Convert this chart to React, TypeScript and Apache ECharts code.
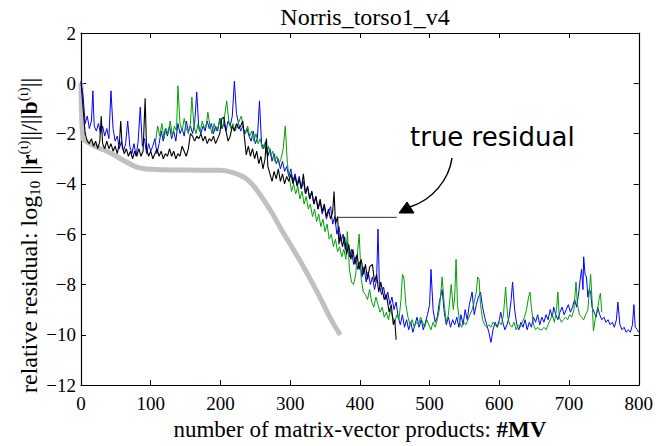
import React, { useEffect, useRef } from "react";
import * as echarts from "echarts";

const titleText = "Norris_torso1_v4";

// gray thick curve (true residual)
const grayData: number[][] = [
  [0, 0], [3, -2.2], [10, -2.35], [20, -2.5], [41, -2.75], [60, -3.05], [80, -3.33], [100, -3.42],
  [150, -3.45], [200, -3.46], [218, -3.55], [235, -3.75], [246, -4.03], [260, -4.55], [275, -5.2],
  [285, -5.7], [300, -6.4], [313, -7.0], [330, -7.85], [342, -8.47], [355, -9.2], [365, -9.7], [372, -10.0],
];

const blueData: number[][] = [
  [0, 0.1], [3, -0.5], [6, -1.6], [9, -1.3], [12, -1.8], [15, -1.5], [17, -0.3], [19, -1.7], [22, -1.9], [25, -1.6],
  [28, -2.0], [31, -1.7], [34, -2.1], [37, -1.8], [40, -2.2], [43, -0.3], [46, -1.8], [49, -2.3], [52, -2.1], [55, -2.6],
  [58, -2.3], [61, -2.7], [64, -2.4], [67, -1.5], [70, -2.5], [73, -2.8], [76, -2.4], [79, -2.9], [82, -2.3], [85, -0.95],
  [88, -2.5], [91, -2.2], [94, -2.8], [97, -2.4], [100, -2.7], [103, -2.5], [106, -2.2], [109, -2.8], [112, -2.4],
  [115, -1.9], [118, -2.3], [121, -1.8], [124, -2.1], [127, -1.7], [130, -2.2], [133, -1.9], [136, -2.3], [139, -1.6],
  [142, -2.0], [145, -1.8], [148, -2.1], [151, -1.5], [154, -1.9], [157, -1.7], [160, -2.0], [163, -1.6], [166, -0.35],
  [169, -1.8], [172, -2.0], [175, -1.7], [178, -1.9], [181, -1.5], [184, -1.8], [187, -1.6], [190, -2.0], [193, -1.7],
  [196, -1.9], [199, -1.4], [202, -1.8], [205, -1.6], [208, -1.9], [211, -1.5], [214, -1.7], [217, -1.3], [220, 0.08],
  [223, -1.2], [226, -1.6], [229, -1.9], [232, -1.7], [235, -2.0], [238, -1.8], [241, -2.1], [244, -2.3], [247, -1.9],
  [250, -2.4], [253, -2.2], [256, -0.7], [259, -2.4], [262, -2.6], [265, -2.3], [268, -2.9], [271, -2.6], [274, -3.1],
  [277, -2.8], [280, -3.2], [283, -3.0], [286, -3.4], [289, -3.1], [292, -3.5], [295, -3.3], [298, -3.7], [301, -3.4],
  [304, -3.9], [307, -3.6], [310, -4.0], [313, -3.7], [316, -4.2], [319, -3.9], [322, -4.4], [325, -4.1], [328, -4.6],
  [331, -4.3], [334, -4.8], [337, -4.5], [340, -5.0], [343, -4.7], [346, -5.2], [349, -4.9], [352, -5.4], [355, -5.1],
  [358, -4.9], [361, -5.6], [364, -5.3], [367, -6.0], [370, -5.7], [373, -6.3], [376, -6.0], [379, -6.6], [382, -6.3],
  [385, -6.9], [388, -6.6], [391, -7.2], [394, -6.9], [397, -7.4], [400, -7.1], [403, -7.7], [406, -7.3], [409, -7.9],
  [412, -7.5], [415, -8.0], [418, -7.7], [421, -8.2], [424, -7.8], [426, -5.8], [428, -8.0], [431, -8.4], [434, -8.1],
  [437, -8.6], [440, -8.3], [443, -8.8], [446, -8.5], [449, -9.0], [452, -8.7], [455, -9.3], [458, -9.6], [461, -9.2],
  [464, -9.7], [467, -9.4], [470, -9.8], [473, -9.5], [476, -9.9], [479, -9.6], [482, -9.3], [485, -9.7], [488, -9.4],
  [491, -9.8], [494, -9.5], [497, -9.2], [500, -8.8], [502, -7.4], [505, -9.0], [508, -9.5], [511, -9.3], [514, -8.7],
  [518, -8.2], [521, -9.1], [524, -9.6], [527, -9.3], [530, -9.7], [533, -9.4], [536, -9.6], [539, -9.3], [542, -9.7],
  [545, -9.2], [548, -9.6], [551, -9.0], [554, -9.4], [557, -8.8], [561, -8.3], [564, -9.2], [567, -8.8], [570, -8.5],
  [573, -8.3], [576, -8.9], [579, -9.3], [582, -9.6], [585, -9.9], [588, -10.3], [591, -9.8], [594, -9.5], [597, -9.7],
  [600, -9.4], [602, -9.1], [605, -9.5], [608, -9.8], [611, -9.6], [614, -9.3], [617, -8.6], [619, -7.9], [622, -9.0],
  [625, -9.6], [628, -9.8], [631, -9.5], [634, -9.7], [637, -9.4], [640, -9.8], [643, -9.5], [646, -9.7], [649, -9.3],
  [652, -9.5], [655, -9.2], [658, -9.6], [661, -9.3], [664, -9.5], [667, -9.2], [670, -9.4], [673, -9.0], [676, -9.3],
  [678, -8.9], [681, -9.2], [684, -9.4], [687, -9.1], [690, -8.9], [693, -9.2], [696, -9.0], [699, -8.8], [702, -9.1],
  [705, -8.9], [708, -8.6], [711, -8.9], [714, -8.3], [716, -7.8], [718, -7.4], [720, -8.2], [721, -6.9], [723, -7.6],
  [725, -7.7], [727, -8.5], [729, -8.2], [731, -8.3], [733, -8.9], [736, -9.1], [739, -9.3], [741, -8.9], [744, -9.2],
  [747, -9.4], [750, -9.3], [753, -9.5], [756, -9.4], [759, -9.6], [762, -9.5], [765, -9.7], [768, -9.4], [770, -8.7],
  [773, -9.6], [776, -9.8], [779, -9.7], [782, -9.9], [785, -9.8], [788, -9.9], [791, -9.6], [793, -8.8], [795, -9.7],
  [798, -9.8], [800, -9.9],
];

const greenData: number[][] = [
  [107, -2.3], [110, -1.7], [113, -2.1], [116, -1.6], [119, -2.2], [122, -1.8], [125, -2.0], [128, -1.5], [131, -2.1],
  [134, -1.7], [137, -1.9], [139, -0.1], [142, -1.6], [145, -1.9], [148, -1.4], [151, -1.8], [154, -2.0], [157, -1.6],
  [159, -0.55], [162, -1.7], [165, -2.0], [168, -1.6], [171, -1.9], [174, -1.5], [177, -1.8], [180, -1.6], [182, -1.15],
  [185, -1.7], [188, -2.0], [191, -1.6], [194, -1.9], [197, -1.7], [200, -1.4], [203, -1.8], [206, -1.3], [209, -0.7],
  [212, -1.5], [215, -1.8], [218, -1.6], [221, -1.9], [224, -1.7], [227, -1.5], [230, -1.3], [233, -1.8], [236, -2.0],
  [239, -1.7], [242, -2.1], [245, -1.9], [248, -2.3], [251, -2.0], [254, -2.4], [257, -2.2], [260, -2.6], [263, -2.4],
  [266, -2.8], [269, -2.5], [272, -2.9], [275, -2.7], [278, -3.1], [281, -2.9], [284, -3.2], [287, -3.0], [290, -2.6],
  [293, -1.7], [296, -3.2], [299, -3.8], [302, -4.3], [305, -4.0], [308, -4.4], [311, -4.1], [314, -4.6], [317, -4.3],
  [320, -4.8], [323, -4.5], [326, -5.0], [329, -4.8], [332, -5.3], [335, -5.0], [338, -5.5], [341, -5.2], [344, -5.7],
  [347, -5.4], [350, -5.9], [353, -5.6], [356, -6.2], [359, -6.0], [362, -6.5], [365, -6.2], [368, -6.7], [371, -6.5],
  [374, -6.9], [377, -6.6], [380, -7.0], [382, -5.9], [385, -7.4], [388, -7.9], [391, -8.0], [394, -7.6], [397, -6.6],
  [399, -6.0], [402, -7.8], [405, -8.3], [408, -8.4], [411, -8.6], [414, -8.2], [417, -8.7], [420, -8.9], [423, -8.5],
  [426, -8.8], [429, -9.1], [432, -8.9], [435, -9.3], [438, -9.1], [441, -9.4], [444, -9.0], [447, -9.3], [450, -9.5],
  [453, -9.2], [456, -9.4], [459, -8.6], [461, -7.6], [463, -7.7], [466, -8.8], [469, -9.3], [472, -9.6], [475, -9.4],
  [478, -9.7], [481, -9.5], [484, -9.6], [487, -9.3], [490, -9.5], [493, -9.7], [496, -9.4], [499, -9.6], [502, -9.8],
  [505, -9.5], [508, -9.7], [511, -9.4], [514, -9.0], [518, -7.7], [521, -8.8], [524, -9.5], [527, -9.2], [531, -8.0],
  [534, -9.0], [536, -8.5], [538, -7.0], [540, -8.8], [543, -9.5], [546, -9.7], [549, -9.5], [552, -9.6], [555, -9.4],
  [558, -9.2], [561, -9.0], [564, -8.7], [567, -8.3], [569, -7.7], [571, -7.8], [573, -8.8], [576, -9.4], [579, -9.6],
  [582, -9.7], [585, -9.6], [588, -9.7], [591, -9.5], [594, -9.6], [597, -9.7], [600, -9.5], [603, -9.6], [606, -9.2],
  [609, -8.1], [612, -9.3], [615, -9.6], [618, -9.7], [621, -9.5], [624, -9.8], [627, -9.6], [630, -9.7], [633, -9.5],
  [636, -9.3], [639, -9.0], [642, -8.5], [644, -8.3], [646, -8.9], [649, -9.6], [652, -9.8], [655, -9.7], [658, -9.8],
  [661, -9.8], [664, -9.7], [667, -9.8], [670, -9.6], [673, -9.4], [676, -9.2], [679, -9.5], [682, -9.0], [684, -8.3],
  [686, -9.3], [689, -9.5], [692, -9.4], [695, -9.3], [698, -9.4], [701, -9.2], [704, -9.3], [707, -9.0], [710, -7.9],
  [712, -8.8], [715, -9.2], [718, -9.3], [721, -9.4], [724, -9.2], [727, -9.0], [729, -8.3], [731, -7.6], [733, -8.6],
  [735, -9.85], [738, -9.3], [741, -9.0], [743, -8.6], [745, -8.35], [747, -9.1],
];

const blackData: number[][] = [
  [0, 0.05], [3, -1.0], [6, -2.0], [9, -2.3], [12, -2.4], [15, -2.2], [18, -2.5], [21, -2.3], [24, -2.6], [27, -2.3],
  [29, -1.3], [31, -2.4], [34, -2.6], [37, -2.3], [40, -2.6], [43, -2.4], [46, -2.7], [49, -2.5], [52, -2.8], [55, -2.4],
  [57, -1.5], [59, -2.5], [62, -2.8], [65, -2.6], [68, -2.9], [71, -2.7], [74, -3.0], [77, -2.7], [80, -2.9], [83, -2.6],
  [86, -2.9], [89, -2.7], [92, -0.6], [94, -2.6], [97, -2.9], [100, -2.7], [103, -3.0], [106, -2.8], [109, -2.6],
  [112, -2.9], [115, -2.7], [118, -3.0], [121, -2.8], [124, -2.9], [127, -2.6], [130, -2.9], [133, -2.7], [136, -3.0],
  [139, -2.8], [142, -2.9], [145, -2.5], [148, -2.7], [151, -2.9], [154, -2.6], [157, -2.0], [160, -2.1], [163, -2.3],
  [166, -2.1], [169, -2.2], [172, -2.0], [175, -2.3], [178, -2.1], [181, -2.4], [184, -2.2], [187, -2.3], [190, -2.1],
  [193, -2.4], [196, -2.2], [199, -2.0], [202, -1.4], [205, -1.35], [208, -1.9], [211, -2.3], [214, -2.1], [217, -1.7],
  [220, -1.9], [223, -1.6], [226, -1.8], [229, -1.7], [232, -1.5], [235, -2.3], [237, -2.85], [240, -2.5], [243, -2.9],
  [246, -2.6], [249, -3.0], [252, -2.7], [255, -3.2], [258, -2.9], [261, -3.4], [264, -3.0], [266, -2.2], [268, -3.3],
  [271, -3.6], [274, -3.9], [277, -3.5], [280, -3.8], [283, -3.4], [286, -3.9], [289, -3.6], [292, -4.0], [295, -3.7],
  [298, -3.9], [301, -3.6], [304, -4.0], [307, -3.7], [310, -4.1], [313, -3.8], [316, -4.2], [319, -3.6], [322, -4.4],
  [325, -4.1], [328, -4.6], [331, -4.3], [334, -4.8], [337, -4.5], [340, -5.0], [343, -4.6], [346, -5.1], [349, -4.8],
  [352, -5.3], [355, -5.0], [358, -5.4], [361, -5.1], [363, -4.3], [365, -5.6], [368, -5.3], [370, -6.4], [372, -6.0],
  [375, -6.5], [378, -6.1], [381, -6.8], [384, -6.4], [387, -7.0], [390, -6.6], [393, -7.2], [396, -6.8], [399, -7.4],
  [402, -7.0], [405, -7.6], [408, -7.2], [411, -7.8], [414, -7.3], [418, -7.2], [421, -7.9], [424, -7.6], [427, -8.3],
  [430, -7.9], [432, -8.2], [435, -8.6], [438, -8.4], [442, -9.1], [445, -8.8], [448, -9.6], [450, -9.4], [452, -10.2],
];

const markerLine: number[][] = [[368, -5.33], [453, -5.33]];

const SERIF = "'Liberation Serif', 'DejaVu Serif', serif";
const fmt = (v: number) => String(v).replace("-", "\u2212");

export default function App() {
  const ref = useRef<HTMLDivElement>(null);
  useEffect(() => {
    if (!ref.current) return;
    const chart = echarts.init(ref.current, undefined, { renderer: "svg" });
    const axisCommon = {
      type: "value" as const,
      splitLine: { show: false },
      axisLine: { show: true, onZero: false, lineStyle: { color: "#000", width: 1.2 } },
      axisTick: { show: true, inside: true, length: 5, lineStyle: { color: "#000", width: 1 } },
    };
    chart.setOption({
      animation: false,
      backgroundColor: "#fff",
      title: {
        text: titleText,
        left: 360,
        top: 0,
        textAlign: "center",
        textStyle: { fontFamily: SERIF, fontSize: 24, fontWeight: "normal", color: "#000" },
      },
      grid: { left: 81, right: 16, top: 33, bottom: 56 },
      xAxis: [
        {
          ...axisCommon,
          min: 0,
          max: 800,
          interval: 100,
          position: "bottom",
          axisLabel: { fontFamily: SERIF, fontSize: 19, color: "#000", margin: 9, formatter: fmt },
          name: "number of matrix-vector products: {b|#MV}",
          nameLocation: "middle",
          nameGap: 30,
          nameTextStyle: {
            fontFamily: SERIF,
            fontSize: 23,
            color: "#000",
            rich: { b: { fontFamily: SERIF, fontSize: 23, fontWeight: "bold", color: "#000" } },
          },
        },
        {
          ...axisCommon,
          min: 0,
          max: 800,
          interval: 100,
          position: "top",
          axisLabel: { show: false },
        },
      ],
      yAxis: [
        {
          ...axisCommon,
          min: -12,
          max: 2,
          interval: 2,
          position: "left",
          axisLabel: { fontFamily: SERIF, fontSize: 19, color: "#000", margin: 5, formatter: fmt },
        },
        {
          ...axisCommon,
          min: -12,
          max: 2,
          interval: 2,
          position: "right",
          axisLabel: { show: false },
        },
      ],
      series: [
        {
          type: "line",
          data: grayData,
          showSymbol: false,
          smooth: 0.3,
          lineStyle: { color: "#c0c0c0", width: 5 },
        },
        {
          type: "line",
          data: blueData,
          showSymbol: false,
          lineStyle: { color: "#0000ff", width: 1 },
        },
        {
          type: "line",
          data: greenData,
          showSymbol: false,
          lineStyle: { color: "#00a000", width: 1 },
        },
        {
          type: "line",
          data: blackData,
          showSymbol: false,
          lineStyle: { color: "#000000", width: 1.1 },
        },
        {
          type: "line",
          data: markerLine,
          showSymbol: false,
          lineStyle: { color: "#333333", width: 1 },
        },
      ],
      graphic: [
        {
          type: "text",
          x: 29,
          y: 393,
          rotation: Math.PI / 2,
          style: {
            text: "relative residual: log{sub|10} ||{b|r}{sup|(ι)}||/||{b|b}{sup|(ι)}||",
            fontFamily: SERIF,
            fontSize: 24,
            fill: "#000",
            align: "left",
            verticalAlign: "middle",
            rich: {
              sub: { fontFamily: SERIF, fontSize: 15, fill: "#000", verticalAlign: "bottom", lineHeight: 27 },
              sup: { fontFamily: SERIF, fontSize: 15, fill: "#000", verticalAlign: "top", lineHeight: 27 },
              b: { fontFamily: SERIF, fontSize: 24, fontWeight: "bold", fill: "#000", lineHeight: 27 },
            },
          },
        },
        {
          type: "text",
          left: 410,
          top: 124,
          style: {
            text: "true residual",
            fontFamily: "'DejaVu Sans', sans-serif",
            fontSize: 26,
            fill: "#000",
          },
        },
        {
          type: "bezierCurve",
          shape: { x1: 452, y1: 158, cpx1: 449, cpy1: 180, cpx2: 432, cpy2: 200, x2: 410, y2: 207 },
          style: { stroke: "#000", lineWidth: 1.5, fill: "none" },
        },
        {
          type: "polygon",
          shape: { points: [[399, 213], [407, 202], [414, 213]] },
          style: { fill: "#000", stroke: "#000" },
        },
      ],
    });
    return () => chart.dispose();
  }, []);
  return (
    <div
      ref={ref}
      style={{ position: "absolute", left: 0, top: 0, width: 656, height: 446 }}
    />
  );
}
